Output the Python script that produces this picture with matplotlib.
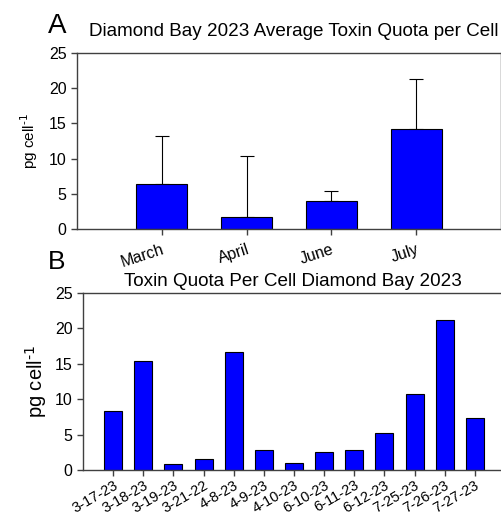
import matplotlib
matplotlib.use("Agg")
import matplotlib.pyplot as plt
import numpy as np

plt.rcParams['font.family'] = ['Liberation Sans', 'DejaVu Sans']

# Panel A: monthly averages with upper error bars
months = ["March", "April", "June", "July"]
month_means = [6.43, 1.75, 3.93, 14.2]
month_err_top = [13.2, 10.4, 5.35, 21.35]

# Panel B: individual sampling dates
dates = ["3-17-23", "3-18-23", "3-19-23", "3-21-22", "4-8-23", "4-9-23",
         "4-10-23", "6-10-23", "6-11-23", "6-12-23", "7-25-23", "7-26-23",
         "7-27-23"]
date_values = [8.37, 15.35, 0.8, 1.55, 16.6, 2.82, 0.94, 2.59, 2.82, 5.18,
               10.73, 21.2, 7.34]

yticks = [0, 5, 10, 15, 20, 25]
bar_color = "#0000FF"
spine_color = "#404040"
unit_label = r"pg cell$^{\text{-1}}$"

fig = plt.figure(figsize=(5.02, 5.17), dpi=100)

def style_axes(ax, tick_size):
    for s in ax.spines.values():
        s.set_color(spine_color)
        s.set_linewidth(1.0)
    ax.tick_params(axis='both', direction='out', length=4, width=1,
                   color=spine_color, labelsize=tick_size)
    ax.set_ylim(0, 25)
    ax.set_yticks(yticks)

# ---- Panel A ----
axA = fig.add_axes([77/502, 288/517, 424/502, 176/517])
xA = np.arange(len(months))
lower = np.zeros(len(months))
upper = np.array(month_err_top) - np.array(month_means)
axA.bar(xA, month_means, width=0.6, color=bar_color, edgecolor="black",
        linewidth=0.8, zorder=2)
axA.errorbar(xA, month_means, yerr=[lower, upper], fmt='none',
             ecolor="black", elinewidth=0.8, capsize=5, capthick=0.8, zorder=1)
axA.set_xlim(-1, 4)
style_axes(axA, 11.5)
axA.tick_params(axis='x', labelsize=11.5, pad=5)
axA.set_xticks(xA)
axA.set_xticklabels(months, rotation=18, ha='right', rotation_mode='anchor')
axA.set_ylabel(unit_label, fontsize=11, labelpad=6)
axA.set_title("Diamond Bay 2023 Average Toxin Quota per Cell", fontsize=13.6,
              pad=12, x=(293.5 - 77) / 424)
fig.text(57/502, 1 - 26/517, "A", fontsize=20, ha='center', va='center')

# ---- Panel B ----
axB = fig.add_axes([83/502, 47/517, 422/502, 177/517])
xB = np.arange(len(dates))
axB.bar(xB, date_values, width=0.6, color=bar_color, edgecolor="black",
        linewidth=0.8)
axB.set_xlim(-1, 13)
style_axes(axB, 11.5)
axB.tick_params(axis='x', labelsize=10.5, pad=2)
axB.set_xticks(xB)
axB.set_xticklabels(dates, rotation=30, ha='right', rotation_mode='anchor')
axB.set_ylabel(unit_label, fontsize=14.5, labelpad=4)
axB.set_title("Toxin Quota Per Cell Diamond Bay 2023", fontsize=13.6, pad=5,
              x=(293 - 83) / 422)
fig.text(57/502, 1 - 262/517, "B", fontsize=19, ha='center', va='center')

fig.savefig("out.png", dpi=100)
